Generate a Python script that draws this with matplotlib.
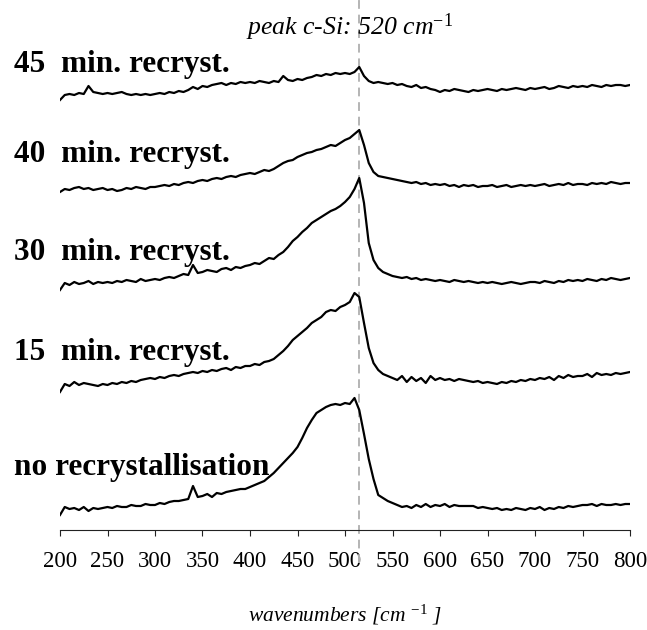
import matplotlib
matplotlib.use("Agg")
import matplotlib.pyplot as plt
import numpy as np

plt.rcParams["font.family"] = ["Liberation Serif", "DejaVu Serif"]
plt.rcParams["mathtext.fontset"] = "custom"
plt.rcParams["mathtext.rm"] = "Liberation Serif"
plt.rcParams["mathtext.it"] = "Liberation Serif:italic"
plt.rcParams["mathtext.bf"] = "Liberation Serif:bold"

# Raman shift grid (cm^-1), 5 cm^-1 steps
wavenumber = np.arange(200, 801, 5)

# Intensities (a.u.) relative to each trace's own baseline
no_recryst = [
    -5, 3, 1, 2, 0, 3, -1, 2, 1, 2,
    3, 2, 4, 3, 3, 5, 4, 4, 6, 5,
    5, 7, 6, 8, 9, 9, 10, 11, 24, 13,
    14, 16, 13, 17, 16, 18, 19, 20, 21, 21,
    23, 25, 27, 29, 33, 37, 42, 47, 52, 57,
    63, 72, 82, 90, 97, 100, 103, 105, 106, 105,
    107, 106, 112, 100, 76, 51, 31, 15, 12, 9,
    7, 5, 3, 4, 2, 5, 3, 6, 3, 5,
    4, 6, 3, 5, 4, 4, 4, 4, 2, 3,
    2, 1, 2, 0, 1, 0, 2, 1, 0, 2,
    1, 3, 0, 2, 1, 3, 2, 4, 3, 4,
    5, 5, 6, 4, 6, 5, 5, 6, 5, 6,
    6,
]
recryst_15 = [
    -2, 6, 4, 8, 5, 7, 6, 5, 4, 6,
    5, 7, 6, 8, 7, 9, 8, 10, 11, 12,
    11, 13, 12, 14, 15, 14, 16, 17, 18, 17,
    19, 18, 20, 19, 21, 22, 20, 23, 22, 24,
    24, 26, 25, 28, 29, 31, 35, 39, 44, 50,
    54, 58, 62, 67, 70, 73, 78, 80, 79, 83,
    85, 88, 97, 93, 67, 42, 27, 20, 16, 14,
    12, 10, 14, 8, 13, 9, 12, 7, 14, 10,
    12, 10, 11, 9, 11, 10, 9, 8, 9, 7,
    8, 7, 6, 8, 7, 9, 8, 10, 9, 11,
    10, 12, 11, 13, 10, 14, 12, 15, 13, 14,
    14, 16, 13, 17, 15, 16, 15, 17, 16, 17,
    18,
]
recryst_30 = [
    -5, 2, 0, 3, 1, 2, 4, 1, 3, 2,
    3, 2, 4, 3, 5, 4, 3, 6, 4, 5,
    6, 5, 7, 8, 7, 9, 11, 10, 20, 12,
    13, 15, 14, 13, 16, 17, 15, 18, 17, 19,
    20, 22, 21, 24, 27, 26, 30, 33, 38, 44,
    48, 53, 57, 62, 65, 68, 71, 74, 76, 79,
    83, 88, 96, 107, 82, 42, 25, 17, 13, 11,
    9, 8, 7, 8, 6, 7, 5, 6, 5, 4,
    5, 4, 3, 5, 4, 3, 4, 3, 2, 3,
    2, 3, 2, 1, 2, 3, 2, 1, 2, 3,
    3, 2, 4, 3, 2, 4, 3, 5, 4, 5,
    4, 6, 5, 4, 6, 5, 7, 6, 5, 6,
    7,
]
recryst_40 = [
    -2, 1, 0, 2, 3, 1, 2, 0, 1, 2,
    0, 1, -1, 0, 2, 1, 3, 2, 1, 3,
    3, 4, 5, 4, 6, 5, 7, 8, 7, 9,
    10, 9, 11, 12, 11, 13, 14, 13, 15, 16,
    17, 16, 18, 20, 19, 21, 24, 27, 29, 30,
    33, 35, 37, 38, 40, 41, 43, 45, 44, 47,
    50, 52, 56, 60, 45, 27, 18, 14, 13, 12,
    11, 10, 9, 8, 7, 8, 6, 7, 5, 6,
    5, 6, 4, 5, 3, 5, 4, 5, 3, 4,
    4, 5, 3, 4, 5, 3, 4, 5, 4, 5,
    4, 5, 6, 4, 5, 6, 5, 7, 5, 6,
    6, 5, 7, 6, 7, 6, 8, 7, 6, 7,
    7,
]
recryst_45 = [
    -5, 0, 1, 0, 2, 1, 9, 3, 2, 1,
    2, 1, 2, 3, 1, 0, 1, 0, 1, 0,
    1, 2, 1, 3, 2, 4, 3, 5, 8, 6,
    9, 8, 10, 11, 12, 10, 12, 11, 13, 12,
    13, 12, 14, 13, 12, 14, 13, 19, 15, 14,
    16, 15, 17, 18, 20, 19, 21, 20, 22, 21,
    22, 21, 23, 28, 19, 14, 12, 13, 12, 11,
    12, 10, 11, 9, 8, 10, 7, 8, 6, 5,
    3, 5, 4, 6, 5, 4, 3, 5, 4, 5,
    6, 5, 4, 6, 5, 6, 7, 6, 5, 7,
    6, 7, 8, 6, 7, 9, 8, 7, 9, 8,
    9, 8, 10, 9, 8, 10, 9, 10, 10, 9,
    10,
]

series = [no_recryst, recryst_15, recryst_30, recryst_40, recryst_45]
labels = ["no recrystallisation", "15  min. recryst.", "30  min. recryst.",
          "40  min. recryst.", "45  min. recryst."]
# vertical stacking offset of each trace
offsets = [20, 140, 245, 340, 435]
# label baselines (figure pixels from top)
label_rows = [475, 360, 260, 162, 72]

peak_csi = 515
xticks = list(range(200, 801, 50))

W, H = 647, 630
fig = plt.figure(figsize=(W / 100, H / 100), dpi=100)
ax = fig.add_axes([60 / W, 100 / H, 570 / W, 530 / H])

for vals, off in zip(series, offsets):
    ax.plot(wavenumber, np.asarray(vals) + off, color="black", lw=1.6,
            solid_joinstyle="round", zorder=3)

ax.axvline(peak_csi, ymin=-0.063, ymax=1.0, color="#b4b4b4", lw=1.4,
           ls=(0, (4.5, 3)), clip_on=False, zorder=2)

ax.set_xlim(200, 800)
ax.set_ylim(0, 530)
ax.set_xticks(xticks)
ax.set_yticks([])
for s in ("left", "right", "top"):
    ax.spines[s].set_visible(False)
ax.spines["bottom"].set_linewidth(0.8)
ax.spines["bottom"].set_color("#222222")
ax.tick_params(axis="x", direction="out", length=4, width=0.8,
               color="#222222", labelsize=16.5, pad=11)
ax.patch.set_visible(False)

for text, row in zip(labels, label_rows):
    fig.text(14 / W, 1 - row / H, text, fontsize=22.5, fontweight="bold",
             va="baseline", ha="left")

fig.text(350 / W, 1 - 35 / H, r"peak c-Si: 520 cm$^{\mathit{-1}}$",
         fontsize=18.5, style="italic", ha="center", va="baseline")
fig.text(345 / W, 1 - 621 / H, r"wavenumbers [cm $^{\mathit{-1}}$ ]",
         fontsize=15.5, style="italic", ha="center", va="baseline")

fig.savefig("out.png", dpi=100)
